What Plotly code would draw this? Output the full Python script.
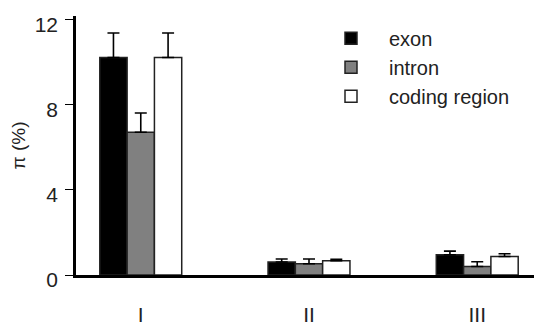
import plotly.graph_objects as go

categories = ["I", "II", "III"]
series_names = ["exon", "intron", "coding region"]
exon = [10.2, 0.61, 0.95]
exon_err = [1.15, 0.14, 0.17]
intron = [6.7, 0.53, 0.40]
intron_err = [0.9, 0.22, 0.22]
coding = [10.2, 0.67, 0.87]
coding_err = [1.15, 0.07, 0.13]
y_ticks = [0, 4, 8, 12]

FONT = "Liberation Sans, Arial, Helvetica, sans-serif"
fills = ["#000000", "#808080", "#ffffff"]

fig = go.Figure()
for name, vals, errs, col in zip(series_names, [exon, intron, coding],
                                 [exon_err, intron_err, coding_err], fills):
    fig.add_trace(go.Bar(
        x=categories, y=vals, name=name,
        marker=dict(color=col, line=dict(color="#222222", width=1.5)),
        error_y=dict(type="data", array=errs, arrayminus=[0] * len(errs),
                     symmetric=False, color="#000000", thickness=1.6, width=6),
    ))

# the page body adds an 8px offset, so the figure is sized to the visible area
fig.update_layout(
    width=534, height=318,
    margin=dict(l=68, r=0, t=8, b=51, autoexpand=False),
    paper_bgcolor="white", plot_bgcolor="white",
    font=dict(family=FONT, size=20, color="#222222"),
    barmode="group", bargap=0.513, bargroupgap=0,
    showlegend=True,
    legend=dict(x=(313 - 76) / 466, y=0.989, xanchor="left", yanchor="top",
                itemwidth=66, font=dict(size=20), bgcolor="rgba(0,0,0,0)",
                traceorder="normal"),
)
fig.update_xaxes(
    range=[-0.385, 2.385], showline=True, linecolor="#000000", linewidth=2.5,
    ticks="", showgrid=False, zeroline=False, automargin=False,
    tickfont=dict(size=21, color="#222222"), ticklabelstandoff=19,
)
fig.update_yaxes(
    range=[0, 12.15], tickvals=y_ticks, ticktext=[str(v) for v in y_ticks],
    showline=True, linecolor="#000000", linewidth=2.5,
    ticks="outside", ticklen=8, tickwidth=1, tickcolor="#000000",
    showgrid=False, zeroline=False, automargin=False,
    tickfont=dict(size=21, color="#222222"), ticklabelstandoff=3,
    ticklabelshift=5, ticklabeloverflow="allow",
    title=dict(text="π (%)", font=dict(size=19, color="#222222"), standoff=12),
)

fig.write_html("out.html")
